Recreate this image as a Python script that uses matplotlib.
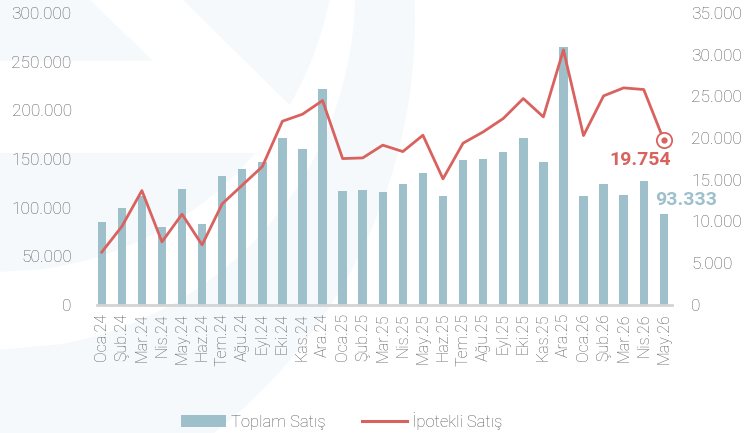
import matplotlib.pyplot as plt
from matplotlib.patches import Polygon, Patch
from matplotlib.lines import Line2D
import numpy as np

plt.rcParams["font.family"] = ["Roboto", "DejaVu Sans"]

months = [
    "Oca.24", "Şub.24", "Mar.24", "Nis.24", "May.24", "Haz.24",
    "Tem.24", "Ağu.24", "Eyl.24", "Eki.24", "Kas.24", "Ara.24",
    "Oca.25", "Şub.25", "Mar.25", "Nis.25", "May.25", "Haz.25",
    "Tem.25", "Ağu.25", "Eyl.25", "Eki.25", "Kas.25", "Ara.25",
    "Oca.26", "Şub.26", "Mar.26", "Nis.26", "May.26",
]

total_sales = [
    85300, 99700, 111500, 80500, 119000, 82900,
    132900, 139700, 146600, 171900, 160000, 222200,
    117100, 117800, 116100, 124000, 135900, 112300,
    149000, 149700, 157200, 171300, 146900, 265000,
    111700, 124600, 113300, 127100, 93333,
]

mortgage_sales = [
    6320, 9390, 13700, 7550, 10870, 7190,
    12110, 14350, 16580, 22020, 22860, 24500,
    17540, 17620, 19150, 18380, 20340, 15110,
    19390, 20740, 22340, 24740, 22540, 30570,
    20300, 25060, 26020, 25820, 19754,
]

left_ticks = [0, 50000, 100000, 150000, 200000, 250000, 300000]
right_ticks = [0, 5000, 10000, 15000, 20000, 25000, 30000, 35000]

bar_color = "#9dc0cb"
line_color = "#d9625f"
text_color = "#555555"
bg_color = "#f6f9fb"


def fmt(v):
    return f"{v:,.0f}".replace(",", ".")


def arc(cx, cy, r, y0, y1, n=60):
    # points on the circle between two heights (pixel coords, y down)
    ys = np.linspace(y0, y1, n)
    xs = cx + np.sqrt(np.clip(r ** 2 - (ys - cy) ** 2, 0, None))
    return list(zip(xs, ys))


fig = plt.figure(figsize=(7.44, 4.33), dpi=100)

# faint logo watermark behind the chart, drawn in pixel coordinates
bg = fig.add_axes([0, 0, 1, 1], zorder=-5)
bg.set_xlim(0, 744)
bg.set_ylim(433, 0)
bg.axis("off")

c1 = (-2, -66, 338)
c2 = (-3, -8, 358)
c3 = (-110, 20, 525)

shapes = [
    [(0, 0), (90, 0), (153, 61), (0, 61)],
    [(183, 0)] + arc(*c1, 0, 105) + [(183, 0)],
    [(0, 153)] + arc(*c1, 153, 272) + [(0, 272)],
    arc(*c3, 0, 433) + [(0, 433)] + arc(*c2, 350, 0),
]
for pts in shapes:
    bg.add_patch(Polygon(pts, closed=True, facecolor=bg_color,
                         edgecolor="none"))

ax = fig.add_axes([0.130, 0.296, 0.773, 0.674])
ax.patch.set_alpha(0)
ax2 = ax.twinx()

x = np.arange(len(months))
ax.bar(x, total_sales, width=0.42, color=bar_color, zorder=2)
ax2.plot(x, mortgage_sales, color=line_color, linewidth=2.0, zorder=3)
ax2.plot(x[-1], mortgage_sales[-1], "o", markersize=11,
         markerfacecolor="white", markeredgecolor=line_color,
         markeredgewidth=1.3, zorder=4)
ax2.plot(x[-1], mortgage_sales[-1], "o", markersize=3.5,
         color=line_color, zorder=5)

ax.set_xlim(-0.25, len(months) - 0.6)
ax.set_ylim(0, 300000)
ax2.set_ylim(0, 35000)

ax.set_yticks(left_ticks)
ax.set_yticklabels([fmt(v) for v in left_ticks])
ax2.set_yticks(right_ticks)
ax2.set_yticklabels([fmt(v) for v in right_ticks])
ax.set_xticks(x)
ax.set_xticklabels(months, rotation=90)

ax.tick_params(axis="y", length=0, pad=18, labelsize=12.5,
               labelcolor=text_color)
ax2.tick_params(axis="y", length=0, pad=14, labelsize=12.5,
                labelcolor=text_color)
ax.tick_params(axis="x", length=0, pad=6, labelsize=11.5,
               labelcolor=text_color)
for lab in ax.get_yticklabels() + ax2.get_yticklabels() + ax.get_xticklabels():
    lab.set_fontweight("light")

for a in (ax, ax2):
    for side in ("top", "right", "left"):
        a.spines[side].set_visible(False)
ax2.spines["bottom"].set_visible(False)
ax.spines["bottom"].set_color("#d4d4d4")
ax.spines["bottom"].set_linewidth(2)

ax2.annotate(fmt(mortgage_sales[-1]), (x[-1], mortgage_sales[-1]),
             xytext=(-17, -14), textcoords="offset points",
             ha="center", va="center", fontsize=14, fontweight="bold",
             color=line_color, zorder=6)
ax.annotate(fmt(total_sales[-1]), (x[-1], total_sales[-1]),
            xytext=(16, 10), textcoords="offset points",
            ha="center", va="center", fontsize=14, fontweight="bold",
            color=bar_color, zorder=6)

handles = [
    Patch(facecolor=bar_color, edgecolor="none"),
    Line2D([0], [0], color=line_color, linewidth=2.2),
]
leg = fig.legend(handles, ["Toplam Satış", "İpotekli Satış"],
                 loc="center", bbox_to_anchor=(0.459, 0.028), ncol=2,
                 frameon=False, fontsize=12, handlelength=2.7,
                 handleheight=0.7, handletextpad=0.3, columnspacing=2.2)
for t in leg.get_texts():
    t.set_color(text_color)
    t.set_fontweight("light")

fig.savefig("out.png", dpi=100)
